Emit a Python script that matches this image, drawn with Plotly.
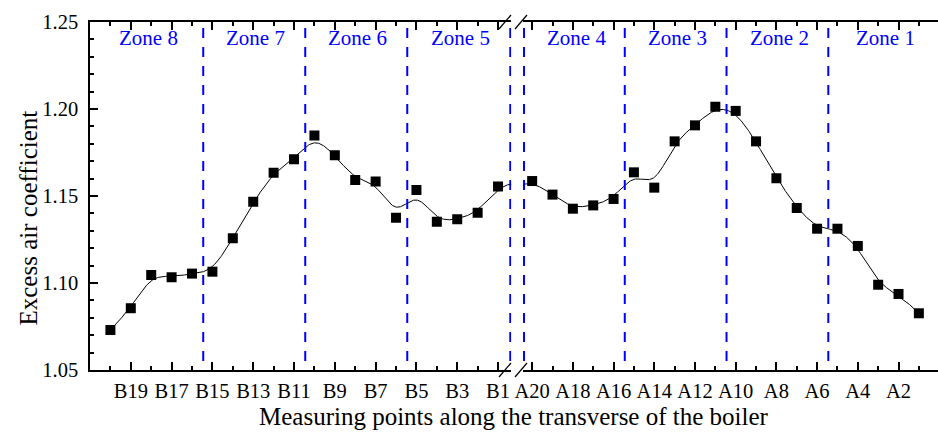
import numpy as np
import plotly.graph_objects as go

# ---------------- data ----------------
b_labels = [f"B{i}" for i in range(20, 0, -1)]
a_labels = [f"A{i}" for i in range(20, 0, -1)]
b_values = [1.0730, 1.0855, 1.1046, 1.1033, 1.1054, 1.1065, 1.1257, 1.1467, 1.1634, 1.1711,
            1.1847, 1.1734, 1.1592, 1.1584, 1.1375, 1.1534, 1.1352, 1.1366, 1.1404, 1.1554]
a_values = [1.1586, 1.1508, 1.1427, 1.1446, 1.1483, 1.1636, 1.1548, 1.1814, 1.1906, 1.2013,
            1.1989, 1.1814, 1.1602, 1.1431, 1.1312, 1.1312, 1.1213, 1.0990, 1.0937, 1.0826]
zone_names = ["Zone 8", "Zone 7", "Zone 6", "Zone 5", "Zone 4", "Zone 3", "Zone 2", "Zone 1"]
y_ticks = [1.05, 1.10, 1.15, 1.20, 1.25]

# ---------------- geometry ----------------
W, H = 938, 432
ML, MR, MT, MB = 90, 0, 22, 62
PW = W - ML - MR
PH = H - MT - MB
FONT = "Liberation Serif, Times New Roman, serif"

n = len(b_values)
xb = np.arange(1, n + 1, dtype=float)          # B20..B1 -> 1..20
xa = np.arange(n + 1, 2 * n + 1, dtype=float)  # A20..A1 -> 21..40
brk = n + 0.6                                  # axis break position
left_range = [0, brk + 0.05]
right_range = [brk - 0.05, 2 * n + 0.94]
left_end_px = ML + 421.3
right_start_px = ML + 433
dom_left = [0, (left_end_px - ML) / PW]
dom_right = [(right_start_px - ML) / PW, 1]

# uniform cubic B-spline with data points as control points (clamped ends)
def bspline(xs, ys, k=40):
    px = np.r_[xs[0], xs[0], xs, xs[-1], xs[-1]]
    py = np.r_[ys[0], ys[0], ys, ys[-1], ys[-1]]
    t = np.linspace(0, 1, k, endpoint=False)
    b0 = (1 - t) ** 3 / 6
    b1 = (3 * t ** 3 - 6 * t ** 2 + 4) / 6
    b2 = (-3 * t ** 3 + 3 * t ** 2 + 3 * t + 1) / 6
    b3 = t ** 3 / 6
    cx, cy = [], []
    for i in range(len(px) - 3):
        cx.append(b0 * px[i] + b1 * px[i + 1] + b2 * px[i + 2] + b3 * px[i + 3])
        cy.append(b0 * py[i] + b1 * py[i + 1] + b2 * py[i + 2] + b3 * py[i + 3])
    cx.append([px[-1]]); cy.append([py[-1]])
    return np.concatenate(cx), np.concatenate(cy)

x_all = np.r_[xb, xa]
y_all = np.r_[b_values, a_values]
cx, cy = bspline(x_all, y_all)

fig = go.Figure()
for xr in ("x", "x2"):
    fig.add_trace(go.Scatter(x=cx, y=cy, mode="lines", xaxis=xr, yaxis="y",
                             line=dict(color="black", width=1), hoverinfo="skip"))
fig.add_trace(go.Scatter(x=xb, y=b_values, mode="markers", xaxis="x", yaxis="y",
                         marker=dict(symbol="square", size=10, color="black", line=dict(width=0))))
fig.add_trace(go.Scatter(x=xa, y=a_values, mode="markers", xaxis="x2", yaxis="y",
                         marker=dict(symbol="square", size=10, color="black", line=dict(width=0))))

axis_style = dict(showline=True, linecolor="black", linewidth=1.5, ticks="inside",
                  ticklen=8, tickwidth=1.5, tickcolor="black", mirror="ticks",
                  showgrid=False, zeroline=False,
                  tickfont=dict(family=FONT, size=20.5, color="black"))

b_major = [i for i in range(n) if i % 2 == 1]
a_major = [i for i in range(n) if i % 2 == 0]
fig.update_layout(
    width=W, height=H, margin=dict(l=ML, r=MR, t=MT, b=MB),
    plot_bgcolor="white", paper_bgcolor="white", showlegend=False,
    font=dict(family=FONT, color="black"),
    xaxis=dict(domain=dom_left, range=left_range, anchor="y",
               tickmode="array", tickvals=[xb[i] for i in b_major],
               ticktext=[b_labels[i] for i in b_major], ticklabelstandoff=2,
               minor=dict(tickmode="array", tickvals=[xb[i] for i in range(n) if i not in b_major],
                          ticks="inside", ticklen=4, tickwidth=1.5, tickcolor="black"),
               **axis_style),
    xaxis2=dict(domain=dom_right, range=right_range, anchor="y",
                tickmode="array", tickvals=[xa[i] for i in a_major],
                ticktext=[a_labels[i] for i in a_major], ticklabelstandoff=2,
                minor=dict(tickmode="array", tickvals=[xa[i] for i in range(n) if i not in a_major],
                           ticks="inside", ticklen=4, tickwidth=1.5, tickcolor="black"),
                **axis_style),
    yaxis=dict(range=[1.05, 1.25], anchor="x", tickmode="array", tickvals=y_ticks,
               ticktext=[f"{v:.2f}" for v in y_ticks], ticklabelstandoff=6,
               minor=dict(dtick=0.01, ticks="inside", ticklen=4, tickwidth=1.5, tickcolor="black"),
               **{k: v for k, v in axis_style.items() if k != "mirror"}),
)

# zone boundaries (every 5 points) and labels
zone_size = 5
left_bounds = [0] + [k * zone_size + 0.55 for k in (1, 2, 3)] + [brk]
right_bounds = [brk] + [n + k * zone_size + 0.55 for k in (1, 2, 3)] + [2 * n + 1]
shapes = []
ytop = 1.25 - 6 / 1740
for xv in left_bounds[1:]:
    shapes.append(dict(type="line", xref="x", yref="y", x0=xv, x1=xv, y0=ytop, y1=1.05,
                       line=dict(color="#0000FF", width=2, dash="10px,9px")))
for xv in right_bounds[:-1]:
    shapes.append(dict(type="line", xref="x2", yref="y", x0=xv, x1=xv, y0=ytop, y1=1.05,
                       line=dict(color="#0000FF", width=2, dash="10px,9px")))

# axis break marks
def px2paper(xp, yp):
    return (xp - ML) / PW, (H - MB - yp) / PH
for ycen in (MT, H - MB):
    for xcen in (505, 521):
        x0, y0 = px2paper(xcen - 6, ycen + 7)
        x1, y1 = px2paper(xcen + 6, ycen - 7)
        shapes.append(dict(type="line", xref="paper", yref="paper", x0=x0, y0=y0, x1=x1, y1=y1,
                           line=dict(color="black", width=1.2)))
fig.update_layout(shapes=shapes)

annotations = []
for i, name in enumerate(zone_names):
    if i < 4:
        xc = (left_bounds[i] + left_bounds[i + 1]) / 2 + 0.08
        xr = "x"
    else:
        xc = (right_bounds[i - 4] + right_bounds[i - 3]) / 2 + 0.08
        xr = "x2"
    annotations.append(dict(x=xc, y=(H - MB - 38) / PH, xref=xr, yref="paper", text=name,
                            showarrow=False, font=dict(family=FONT, size=21, color="#0000FF"),
                            xanchor="center", yanchor="middle"))
xt, yt = px2paper(514, 416)
annotations.append(dict(x=xt, y=yt, xref="paper", yref="paper",
                        text="Measuring points along the transverse of the boiler",
                        showarrow=False, font=dict(family=FONT, size=25, color="black"),
                        xanchor="center", yanchor="middle"))
xt, yt = px2paper(27.5, 218)
annotations.append(dict(x=xt, y=yt, xref="paper", yref="paper", text="Excess air coefficient",
                        textangle=-90, showarrow=False,
                        font=dict(family=FONT, size=25, color="black"),
                        xanchor="center", yanchor="middle"))
fig.update_layout(annotations=annotations)

fig.write_html("out.html")
